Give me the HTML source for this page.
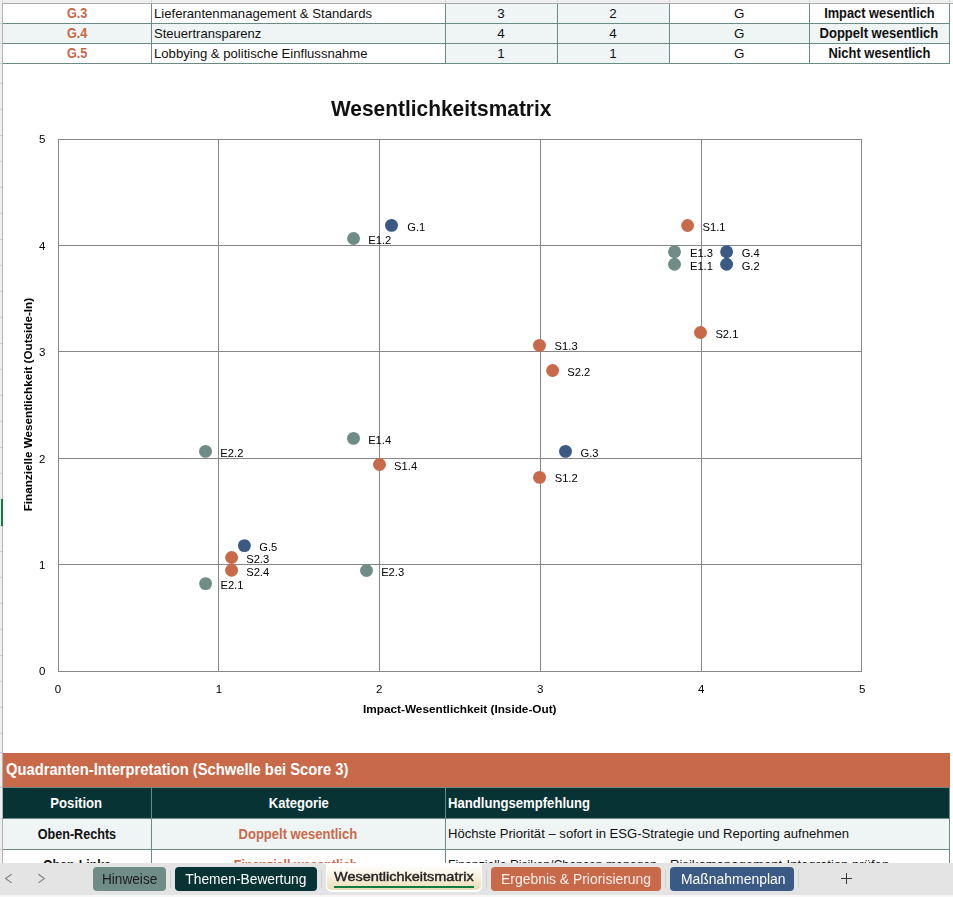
<!DOCTYPE html>
<html><head><meta charset="utf-8"><title>Wesentlichkeitsmatrix</title><style>
html,body{margin:0;padding:0;}
body{width:953px;height:897px;overflow:hidden;background:#fff;position:relative;font-family:"Liberation Sans", sans-serif;}
.a{position:absolute;}
.t{position:absolute;white-space:pre;}
svg text{font-family:"Liberation Sans", sans-serif;}
</style></head>
<body>
<div class="a" style="left:0;top:0;width:953px;height:863px;overflow:hidden">
<div class="a" style="left:3px;top:24px;width:947px;height:19px;background:#EFF5F5;"></div><div class="a" style="left:446px;top:4px;width:223px;height:59px;background:#EFF5F5;"></div><div class="a" style="left:3px;top:23px;width:947px;height:1px;background:#6B8B85;"></div><div class="a" style="left:3px;top:43px;width:947px;height:1px;background:#6B8B85;"></div><div class="a" style="left:3px;top:63px;width:947px;height:1px;background:#6B8B85;"></div><div class="a" style="left:151px;top:4px;width:1px;height:60px;background:#6B8B85;"></div><div class="a" style="left:445px;top:4px;width:1px;height:60px;background:#6B8B85;"></div><div class="a" style="left:557px;top:4px;width:1px;height:60px;background:#6B8B85;"></div><div class="a" style="left:669px;top:4px;width:1px;height:60px;background:#6B8B85;"></div><div class="a" style="left:809px;top:4px;width:1px;height:60px;background:#6B8B85;"></div><div class="a" style="left:949px;top:4px;width:1px;height:60px;background:#6B8B85;"></div><div class="a" style="left:3px;top:753px;width:947px;height:34px;background:#C8694A;"></div><div class="a" style="left:3px;top:787px;width:947px;height:1px;background:#6B8B85;"></div><div class="a" style="left:3px;top:788px;width:947px;height:30px;background:#073334;"></div><div class="a" style="left:3px;top:818px;width:947px;height:1px;background:#6B8B85;"></div><div class="a" style="left:3px;top:819px;width:947px;height:30px;background:#EFF5F5;"></div><div class="a" style="left:3px;top:849px;width:947px;height:1px;background:#6B8B85;"></div><div class="a" style="left:151px;top:788px;width:1px;height:80px;background:#6B8B85;"></div><div class="a" style="left:445px;top:788px;width:1px;height:80px;background:#6B8B85;"></div><div class="a" style="left:949px;top:788px;width:1px;height:80px;background:#6B8B85;"></div><div class="a" style="left:949px;top:753px;width:1px;height:35px;background:#C8694A;"></div><div class="a" style="left:0px;top:0px;width:953px;height:3px;background:#efefef;"></div><div class="a" style="left:0px;top:3px;width:953px;height:1px;background:#ababab;"></div><div class="a" style="left:151px;top:0px;width:1px;height:3px;background:#d6d6d6;"></div><div class="a" style="left:445px;top:0px;width:1px;height:3px;background:#d6d6d6;"></div><div class="a" style="left:557px;top:0px;width:1px;height:3px;background:#d6d6d6;"></div><div class="a" style="left:669px;top:0px;width:1px;height:3px;background:#d6d6d6;"></div><div class="a" style="left:809px;top:0px;width:1px;height:3px;background:#d6d6d6;"></div><div class="a" style="left:949px;top:0px;width:1px;height:3px;background:#d6d6d6;"></div><div class="a" style="left:0px;top:0px;width:2px;height:863px;background:#efefef;"></div><div class="a" style="left:2px;top:0px;width:1px;height:3px;background:#dcdcdc;"></div><div class="a" style="left:2px;top:3px;width:1px;height:860px;background:#b2b2b2;"></div><div class="a" style="left:0px;top:23px;width:2px;height:1px;background:#cfcfcf;"></div><div class="a" style="left:0px;top:43px;width:2px;height:1px;background:#cfcfcf;"></div><div class="a" style="left:0px;top:63px;width:2px;height:1px;background:#cfcfcf;"></div><div class="a" style="left:0px;top:83px;width:2px;height:1px;background:#cfcfcf;"></div><div class="a" style="left:0px;top:109px;width:2px;height:1px;background:#cfcfcf;"></div><div class="a" style="left:0px;top:135px;width:2px;height:1px;background:#cfcfcf;"></div><div class="a" style="left:0px;top:161px;width:2px;height:1px;background:#cfcfcf;"></div><div class="a" style="left:0px;top:187px;width:2px;height:1px;background:#cfcfcf;"></div><div class="a" style="left:0px;top:213px;width:2px;height:1px;background:#cfcfcf;"></div><div class="a" style="left:0px;top:239px;width:2px;height:1px;background:#cfcfcf;"></div><div class="a" style="left:0px;top:265px;width:2px;height:1px;background:#cfcfcf;"></div><div class="a" style="left:0px;top:291px;width:2px;height:1px;background:#cfcfcf;"></div><div class="a" style="left:0px;top:317px;width:2px;height:1px;background:#cfcfcf;"></div><div class="a" style="left:0px;top:343px;width:2px;height:1px;background:#cfcfcf;"></div><div class="a" style="left:0px;top:369px;width:2px;height:1px;background:#cfcfcf;"></div><div class="a" style="left:0px;top:395px;width:2px;height:1px;background:#cfcfcf;"></div><div class="a" style="left:0px;top:421px;width:2px;height:1px;background:#cfcfcf;"></div><div class="a" style="left:0px;top:447px;width:2px;height:1px;background:#cfcfcf;"></div><div class="a" style="left:0px;top:473px;width:2px;height:1px;background:#cfcfcf;"></div><div class="a" style="left:0px;top:499px;width:2px;height:1px;background:#cfcfcf;"></div><div class="a" style="left:0px;top:525px;width:2px;height:1px;background:#cfcfcf;"></div><div class="a" style="left:0px;top:551px;width:2px;height:1px;background:#cfcfcf;"></div><div class="a" style="left:0px;top:577px;width:2px;height:1px;background:#cfcfcf;"></div><div class="a" style="left:0px;top:603px;width:2px;height:1px;background:#cfcfcf;"></div><div class="a" style="left:0px;top:629px;width:2px;height:1px;background:#cfcfcf;"></div><div class="a" style="left:0px;top:655px;width:2px;height:1px;background:#cfcfcf;"></div><div class="a" style="left:0px;top:681px;width:2px;height:1px;background:#cfcfcf;"></div><div class="a" style="left:0px;top:707px;width:2px;height:1px;background:#cfcfcf;"></div><div class="a" style="left:0px;top:733px;width:2px;height:1px;background:#cfcfcf;"></div><div class="a" style="left:0px;top:752px;width:2px;height:1px;background:#cfcfcf;"></div><div class="a" style="left:0px;top:787px;width:2px;height:1px;background:#cfcfcf;"></div><div class="a" style="left:0px;top:818px;width:2px;height:1px;background:#cfcfcf;"></div><div class="a" style="left:0px;top:849px;width:2px;height:1px;background:#cfcfcf;"></div><div class="a" style="left:1px;top:499px;width:2px;height:27px;background:#107C41;"></div>
<span class="t" style="left:65.58px;top:5px;font-size:13.8px;line-height:18px;color:#C8694A;font-weight:700;transform:scaleX(0.9160);transform-origin:center center;">G.3</span><span class="t" style="left:153.71px;top:5px;font-size:13.4px;line-height:17px;color:#111111;transform:scaleX(0.9797);transform-origin:left center;">Lieferantenmanagement &amp; Standards</span><span class="t" style="left:497.27px;top:5px;font-size:13.4px;line-height:17px;color:#111111;">3</span><span class="t" style="left:609.27px;top:5px;font-size:13.4px;line-height:17px;color:#111111;">2</span><span class="t" style="left:733.99px;top:5px;font-size:13.4px;line-height:17px;color:#111111;">G</span><span class="t" style="left:819.88px;top:5px;font-size:13.8px;line-height:18px;color:#111111;font-weight:700;transform:scaleX(0.9305);transform-origin:center center;">Impact wesentlich</span><span class="t" style="left:65.58px;top:25px;font-size:13.8px;line-height:18px;color:#C8694A;font-weight:700;transform:scaleX(0.9160);transform-origin:center center;">G.4</span><span class="t" style="left:153.72px;top:25px;font-size:13.4px;line-height:17px;color:#111111;transform:scaleX(0.9738);transform-origin:left center;">Steuertransparenz</span><span class="t" style="left:497.27px;top:25px;font-size:13.4px;line-height:17px;color:#111111;">4</span><span class="t" style="left:609.27px;top:25px;font-size:13.4px;line-height:17px;color:#111111;">4</span><span class="t" style="left:733.99px;top:25px;font-size:13.4px;line-height:17px;color:#111111;">G</span><span class="t" style="left:816.43px;top:25px;font-size:13.8px;line-height:18px;color:#111111;font-weight:700;transform:scaleX(0.9439);transform-origin:center center;">Doppelt wesentlich</span><span class="t" style="left:65.58px;top:45px;font-size:13.8px;line-height:18px;color:#C8694A;font-weight:700;transform:scaleX(0.9160);transform-origin:center center;">G.5</span><span class="t" style="left:153.71px;top:45px;font-size:13.4px;line-height:17px;color:#111111;transform:scaleX(0.9792);transform-origin:left center;">Lobbying &amp; politische Einflussnahme</span><span class="t" style="left:497.27px;top:45px;font-size:13.4px;line-height:17px;color:#111111;">1</span><span class="t" style="left:609.27px;top:45px;font-size:13.4px;line-height:17px;color:#111111;">1</span><span class="t" style="left:733.99px;top:45px;font-size:13.4px;line-height:17px;color:#111111;">G</span><span class="t" style="left:824.86px;top:45px;font-size:13.8px;line-height:18px;color:#111111;font-weight:700;transform:scaleX(0.9376);transform-origin:center center;">Nicht wesentlich</span><span class="t" style="left:6.03px;top:760px;font-size:15.6px;line-height:20px;color:#ffffff;font-weight:700;transform:scaleX(0.9455);transform-origin:left center;">Quadranten-Interpretation (Schwelle bei Score 3)</span><span class="t" style="left:49.49px;top:795px;font-size:13.8px;line-height:18px;color:#ffffff;font-weight:700;transform:scaleX(0.9496);transform-origin:center center;">Position</span><span class="t" style="left:266.58px;top:795px;font-size:13.8px;line-height:18px;color:#ffffff;font-weight:700;transform:scaleX(0.9425);transform-origin:center center;">Kategorie</span><span class="t" style="left:448.13px;top:795px;font-size:13.8px;line-height:18px;color:#ffffff;font-weight:700;transform:scaleX(0.9506);transform-origin:left center;">Handlungsempfehlung</span><span class="t" style="left:34.06px;top:826px;font-size:13.8px;line-height:18px;color:#111111;font-weight:700;transform:scaleX(0.9127);transform-origin:center center;">Oben-Rechts</span><span class="t" style="left:235.43px;top:826px;font-size:13.8px;line-height:18px;color:#C8694A;font-weight:700;transform:scaleX(0.9431);transform-origin:center center;">Doppelt wesentlich</span><span class="t" style="left:448.11px;top:825px;font-size:13.4px;line-height:17px;color:#111111;transform:scaleX(0.9779);transform-origin:left center;">Höchste Priorität – sofort in ESG-Strategie und Reporting aufnehmen</span><span class="t" style="left:39.05px;top:857px;font-size:13.8px;line-height:18px;color:#111111;font-weight:700;transform:scaleX(0.8971);transform-origin:center center;">Oben-Links</span><span class="t" style="left:227.48px;top:857px;font-size:13.8px;line-height:18px;color:#C8694A;font-weight:700;transform:scaleX(0.9004);transform-origin:center center;">Finanziell wesentlich</span><span class="t" style="left:448.15px;top:856px;font-size:13.4px;line-height:17px;color:#111111;transform:scaleX(0.9144);transform-origin:left center;">Finanzielle Risiken/Chancen managen,</span><span class="t" style="left:669.91px;top:856px;font-size:13.4px;line-height:17px;color:#111111;transform:scaleX(0.9783);transform-origin:left center;">Risikomanagement-Integration prüfen</span>
</div>
<svg class="a" style="left:0;top:0;will-change:transform" width="953" height="897" viewBox="0 0 953 897"><rect x="58" y="139" width="1" height="533" fill="#868686"/><rect x="218" y="139" width="1" height="533" fill="#868686"/><rect x="379" y="139" width="1" height="533" fill="#868686"/><rect x="540" y="139" width="1" height="533" fill="#868686"/><rect x="701" y="139" width="1" height="533" fill="#868686"/><rect x="861" y="139" width="1" height="533" fill="#868686"/><rect x="58" y="139" width="804" height="1" fill="#868686"/><rect x="58" y="245" width="804" height="1" fill="#868686"/><rect x="58" y="351" width="804" height="1" fill="#868686"/><rect x="58" y="458" width="804" height="1" fill="#868686"/><rect x="58" y="564" width="804" height="1" fill="#868686"/><rect x="58" y="671" width="804" height="1" fill="#868686"/><circle cx="674.5" cy="264.2" r="6.45" fill="#6F8C86"/><circle cx="353.55" cy="238.45" r="6.45" fill="#6F8C86"/><circle cx="674.5" cy="251.7" r="6.45" fill="#6F8C86"/><circle cx="353.5" cy="438.4" r="6.45" fill="#6F8C86"/><circle cx="205.6" cy="583.6" r="6.45" fill="#6F8C86"/><circle cx="205.5" cy="451.4" r="6.45" fill="#6F8C86"/><circle cx="366.5" cy="570.5" r="6.45" fill="#6F8C86"/><circle cx="687.6" cy="225.5" r="6.45" fill="#C8694A"/><circle cx="539.55" cy="477.4" r="6.45" fill="#C8694A"/><circle cx="539.5" cy="345.4" r="6.45" fill="#C8694A"/><circle cx="379.5" cy="464.45" r="6.45" fill="#C8694A"/><circle cx="700.5" cy="332.45" r="6.45" fill="#C8694A"/><circle cx="552.6" cy="370.55" r="6.45" fill="#C8694A"/><circle cx="231.6" cy="557.5" r="6.45" fill="#C8694A"/><circle cx="231.6" cy="570.2" r="6.45" fill="#C8694A"/><circle cx="391.5" cy="225.35" r="6.45" fill="#3A5A85"/><circle cx="726.6" cy="264.2" r="6.45" fill="#3A5A85"/><circle cx="565.5" cy="451.4" r="6.45" fill="#3A5A85"/><circle cx="726.6" cy="251.7" r="6.45" fill="#3A5A85"/><circle cx="244.4" cy="545.6" r="6.45" fill="#3A5A85"/><text x="689.95" y="270" font-size="11.2" fill="#000">E1.1</text><text x="368.25" y="244" font-size="11.2" fill="#000">E1.2</text><text x="689.95" y="257" font-size="11.2" fill="#000">E1.3</text><text x="368.15" y="444" font-size="11.2" fill="#000">E1.4</text><text x="220.45" y="589" font-size="11.2" fill="#000">E2.1</text><text x="220.35" y="457" font-size="11.2" fill="#000">E2.2</text><text x="381.15" y="576" font-size="11.2" fill="#000">E2.3</text><text x="702.50" y="231" font-size="11.2" fill="#000">S1.1</text><text x="554.70" y="482" font-size="11.2" fill="#000">S1.2</text><text x="554.60" y="350" font-size="11.2" fill="#000">S1.3</text><text x="394.10" y="470" font-size="11.2" fill="#000">S1.4</text><text x="715.40" y="338" font-size="11.2" fill="#000">S2.1</text><text x="567.30" y="376" font-size="11.2" fill="#000">S2.2</text><text x="246.20" y="563" font-size="11.2" fill="#000">S2.3</text><text x="246.20" y="576" font-size="11.2" fill="#000">S2.4</text><text x="407.25" y="231" font-size="11.2" fill="#000">G.1</text><text x="741.65" y="270" font-size="11.2" fill="#000">G.2</text><text x="580.55" y="457" font-size="11.2" fill="#000">G.3</text><text x="741.65" y="257" font-size="11.2" fill="#000">G.4</text><text x="259.25" y="551" font-size="11.2" fill="#000">G.5</text><text x="45.4" y="143" font-size="11.5" text-anchor="end" fill="#000">5</text><text x="45.4" y="250" font-size="11.5" text-anchor="end" fill="#000">4</text><text x="45.4" y="356" font-size="11.5" text-anchor="end" fill="#000">3</text><text x="45.4" y="463" font-size="11.5" text-anchor="end" fill="#000">2</text><text x="45.4" y="569" font-size="11.5" text-anchor="end" fill="#000">1</text><text x="45.4" y="675" font-size="11.5" text-anchor="end" fill="#000">0</text><text x="58.0" y="693.0" font-size="11.5" text-anchor="middle" fill="#000">0</text><text x="219.0" y="693.0" font-size="11.5" text-anchor="middle" fill="#000">1</text><text x="379.2" y="693.0" font-size="11.5" text-anchor="middle" fill="#000">2</text><text x="540.2" y="693.0" font-size="11.5" text-anchor="middle" fill="#000">3</text><text x="701.2" y="693.0" font-size="11.5" text-anchor="middle" fill="#000">4</text><text x="862.2" y="693.0" font-size="11.5" text-anchor="middle" fill="#000">5</text><text x="441.2" y="115.8" font-size="21.4" font-weight="700" text-anchor="middle" fill="#111" textLength="220.5" lengthAdjust="spacingAndGlyphs">Wesentlichkeitsmatrix</text><text x="459.8" y="713.0" font-size="11.3" font-weight="700" text-anchor="middle" fill="#000" textLength="193.5" lengthAdjust="spacingAndGlyphs">Impact-Wesentlichkeit (Inside-Out)</text><text transform="translate(32.1,404.6) rotate(-90)" x="0" y="0" font-size="11.3" font-weight="700" text-anchor="middle" fill="#000" textLength="213.5" lengthAdjust="spacingAndGlyphs">Finanzielle Wesentlichkeit (Outside-In)</text></svg>
<div class="a" style="left:0;top:863px;width:326px;height:32px;background:#e4e4e4;border-radius:0 4px 0 0;"></div><div class="a" style="left:482px;top:863px;width:471px;height:32px;background:#e4e4e4;border-radius:4px 0 0 0;"></div><div class="a" style="left:326px;top:880px;width:156px;height:15px;background:#e4e4e4;"></div><div class="a" style="left:0px;top:895px;width:953px;height:2px;background:#f7f7f7;"></div><div class="a" style="left:326px;top:863px;width:156px;height:28.5px;background:#fff;border-radius:0 0 6px 6px;"></div><div class="a" style="left:327px;top:863px;width:154px;height:27px;border-radius:0 0 5px 5px;background:linear-gradient(#ffffff 0px,#ffffff 2px,#faf5e8 10px,#ecdcb6 27px);"></div><div class="a" style="left:334px;top:886px;width:139.5px;height:2px;background:#107C41;"></div><div class="a" style="left:93px;top:867px;width:72.8px;height:23.8px;background:#6F8C86;border-radius:4px;"></div><div class="a" style="left:175px;top:867px;width:142.2px;height:23.8px;background:#073334;border-radius:4px;"></div><div class="a" style="left:491px;top:867px;width:170px;height:23.8px;background:#C8694A;border-radius:4px;"></div><div class="a" style="left:670.2px;top:867px;width:123.5px;height:23.8px;background:#3A5A85;border-radius:4px;"></div><div class="a" style="left:170px;top:870px;width:1px;height:18px;background:#d0d0d0;"></div><div class="a" style="left:321px;top:870px;width:1px;height:18px;background:#d0d0d0;"></div><div class="a" style="left:486px;top:870px;width:1px;height:18px;background:#d0d0d0;"></div><div class="a" style="left:665px;top:870px;width:1px;height:18px;background:#d0d0d0;"></div><div class="a" style="left:798px;top:870px;width:1px;height:18px;background:#d0d0d0;"></div><svg class="a" style="left:0;top:863px" width="953" height="34" viewBox="0 863 953 34"><path d="M11.6,874.2 L5.6,878.5 L11.6,882.9" fill="none" stroke="#808080" stroke-width="1.1"/><path d="M38.4,874.2 L44.4,878.5 L38.4,882.9" fill="none" stroke="#808080" stroke-width="1.1"/></svg><div class="a" style="left:841px;top:878px;width:11px;height:1px;background:#3a3a3a;"></div><div class="a" style="left:846px;top:873px;width:1px;height:11px;background:#3a3a3a;"></div>
<span class="t" style="left:102.01px;top:871px;font-size:13.8px;line-height:18px;color:#1c1c1c;transform:scaleX(0.9874);transform-origin:left center;">Hinweise</span><span class="t" style="left:185.30px;top:871px;font-size:13.8px;line-height:18px;color:#ffffff;">Themen-Bewertung</span><span class="t" style="left:333.75px;top:868px;font-size:13.4px;line-height:17px;color:#222222;transform:scaleX(1.0808);transform-origin:left center;-webkit-text-stroke:0.4px #222222;">Wesentlichkeitsmatrix</span><span class="t" style="left:500.69px;top:871px;font-size:13.8px;line-height:18px;color:#fcefe9;transform:scaleX(1.0087);transform-origin:left center;">Ergebnis &amp; Priorisierung</span><span class="t" style="left:681.09px;top:871px;font-size:13.8px;line-height:18px;color:#ffffff;transform:scaleX(1.0100);transform-origin:left center;">Maßnahmenplan</span>
</body></html>
